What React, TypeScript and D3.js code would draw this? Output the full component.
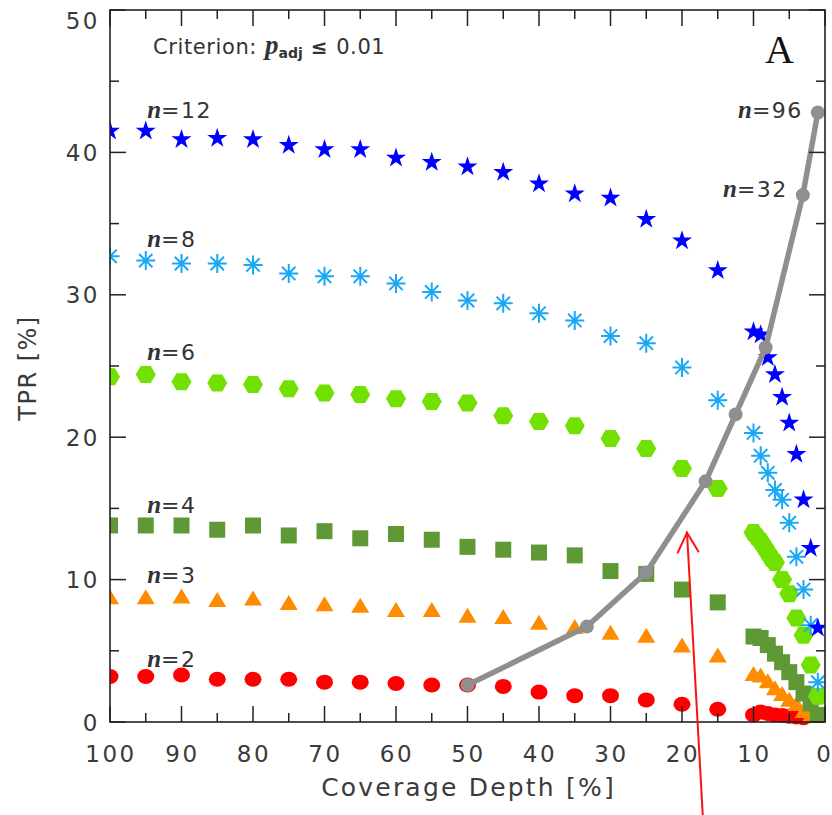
import React from "react";
import * as d3 from "d3";

// ---------- data ----------
const depthMain = [100, 95, 90, 85, 80, 75, 70, 65, 60, 55, 50, 45, 40, 35, 30, 25, 20, 15];
const depthLow = [10, 9, 8, 7, 6, 5, 4, 3, 2, 1];

const n12Main = [41.5, 41.5, 40.9, 41.0, 40.9, 40.5, 40.2, 40.2, 39.6, 39.3, 39.0, 38.6, 37.8, 37.1, 36.8, 35.3, 33.8, 31.7];
const n12Low = [27.4, 27.2, 25.6, 24.4, 22.8, 21.0, 18.8, 15.6, 12.2, 6.6];

const n8Main = [32.7, 32.4, 32.2, 32.2, 32.1, 31.5, 31.3, 31.3, 30.8, 30.2, 29.6, 29.4, 28.7, 28.2, 27.1, 26.6, 24.9, 22.6];
const n8Low = [20.3, 18.7, 17.5, 16.3, 15.6, 14.0, 11.6, 9.3, 6.8, 2.8];

const n6Main = [24.25, 24.4, 23.9, 23.8, 23.7, 23.4, 23.1, 23.0, 22.7, 22.5, 22.4, 21.5, 21.1, 20.8, 19.9, 19.2, 17.8, 16.4];
const n6LowDepth = [10, 9.5, 9, 8.5, 8, 7.5, 7, 6, 5, 4, 3, 2, 1];
const n6Low = [13.3, 13.0, 12.7, 12.3, 11.9, 11.5, 11.2, 10.0, 9.0, 7.3, 6.1, 4.0, 1.8];

const n4Main = [13.8, 13.8, 13.8, 13.5, 13.8, 13.1, 13.4, 12.9, 13.2, 12.8, 12.3, 12.1, 11.9, 11.7, 10.6, 10.4, 9.3, 8.4];
const n4Low = [6.0, 5.9, 5.4, 4.8, 4.2, 3.5, 2.8, 2.0, 1.3, 0.5];

const n3Main = [8.8, 8.8, 8.85, 8.6, 8.7, 8.4, 8.3, 8.2, 7.9, 7.9, 7.5, 7.4, 7.0, 6.7, 6.3, 6.1, 5.4, 4.7];
const n3LowDepth = [10, 9, 8, 7, 6, 5, 4, 3, 2];
const n3Low = [3.4, 3.3, 2.9, 2.4, 2.0, 1.6, 1.3, 0.8, 0.5];

const n2Main = [3.2, 3.2, 3.3, 3.0, 3.0, 3.0, 2.8, 2.8, 2.7, 2.6, 2.6, 2.5, 2.1, 1.85, 1.85, 1.55, 1.25, 0.9];
const n2LowDepth = [10, 9, 8, 7, 6, 5, 4, 3];
const n2Low = [0.5, 0.7, 0.6, 0.5, 0.45, 0.4, 0.35, 0.3];

// fixed-budget curve (n = 2,3,4,6,8,12,32,96)
const optN = [2, 3, 4, 6, 8, 12, 32, 96];
const optDepth = [50, 33.3, 25, 16.7, 12.5, 8.3, 3.1, 1.0];
const optTPR = [2.6, 6.7, 10.5, 16.9, 21.6, 26.3, 37.0, 42.8];

const yTickVals = [0, 10, 20, 30, 40, 50];
const yTickLabels = ["0", "10", "20", "30", "40", "50"];
const xTickVals = [100, 90, 80, 70, 60, 50, 40, 30, 20, 10, 0];
const xTickLabels = ["100", "90", "80", "70", "60", "50", "40", "30", "20", "10", "0"];

// series labels
const leftLabelN = ["12", "8", "6", "4", "3", "2"];
const leftLabelTPR = [42.4, 33.35, 25.4, 14.7, 9.75, 3.85];
const rightLabelN = ["96", "32"];
const rightLabelDepth = [3.1, 5.2];
const rightLabelTPR = [42.4, 36.9];

// ---------- layout ----------
const W = 832;
const H = 815;
const L = 110, R = 825, T = 10, B = 722;

const x = d3.scaleLinear().domain([100, 0]).range([L, R]);
const y = d3.scaleLinear().domain([0, 50]).range([B, T]);

const starPath = d3.symbol(d3.symbolStar, 124)() as string;
const hexPath = "M-10,0L-5,-8.5L5,-8.5L10,0L5,8.5L-5,8.5Z";
const triPath = "M0,-7.5L9,7.5L-9,7.5Z";
const sqPath = "M-8,-8H8V8H-8Z";
const astPath = "M-9.5,0H9.5M0,-9.5V9.5M-6.7,-6.7L6.7,6.7M-6.7,6.7L6.7,-6.7";

const sansFont = "'DejaVu Sans', Verdana, sans-serif";
const serifFont = "'Liberation Serif', 'Times New Roman', serif";

function pts(depths: number[], vals: number[]) {
  return depths.map((d, i) => [x(d), y(vals[i])] as [number, number]);
}

const App = () => {
  const xMinor = x.ticks(20).filter((v) => v % 10 !== 0);
  const yMinor = y.ticks(10).filter((v) => v % 10 !== 0);

  const red = [...pts(depthMain, n2Main), ...pts(n2LowDepth, n2Low)];
  const orange = [...pts(depthMain, n3Main), ...pts(n3LowDepth, n3Low)];
  const squares = [...pts(depthMain, n4Main), ...pts(depthLow, n4Low)];
  const hexes = [...pts(depthMain, n6Main), ...pts(n6LowDepth, n6Low)];
  const asts = [...pts(depthMain, n8Main), ...pts(depthLow, n8Low)];
  const stars = [...pts(depthMain, n12Main), ...pts(depthLow, n12Low)];
  const opt = pts(optDepth, optTPR);
  const line = d3.line()(opt) as string;

  // arrow annotation (in data coords)
  const tip: [number, number] = [x(19.3), y(13.3)];
  const tail: [number, number] = [x(17.1), y(-6.5)];
  const dx = tail[0] - tip[0], dy = tail[1] - tip[1];
  const len = Math.hypot(dx, dy);
  const ux = dx / len, uy = dy / len;
  const ang = (28 * Math.PI) / 180;
  const hl = 22;
  const w1: [number, number] = [
    tip[0] + hl * (ux * Math.cos(ang) - uy * Math.sin(ang)),
    tip[1] + hl * (ux * Math.sin(ang) + uy * Math.cos(ang)),
  ];
  const w2: [number, number] = [
    tip[0] + hl * (ux * Math.cos(-ang) - uy * Math.sin(-ang)),
    tip[1] + hl * (ux * Math.sin(-ang) + uy * Math.cos(-ang)),
  ];

  const tickColor = "#222";
  const labelColor = "#3a3a3a";

  return (
    <svg
      width={W}
      height={H}
      style={{ position: "absolute", left: 0, top: 0, background: "#fff" }}
    >
      <rect x={0} y={0} width={W} height={H} fill="#fff" />
      <defs>
        <clipPath id="plotclip">
          <rect x={L} y={T - 20} width={R - L} height={B - T + 28} />
        </clipPath>
      </defs>

      {/* markers */}
      <g clipPath="url(#plotclip)">
        {red.map(([px, py], i) => (
          <ellipse key={"r" + i} cx={px} cy={py} rx={8.5} ry={7.5} fill="#ff0000" />
        ))}
        {orange.map(([px, py], i) => (
          <path key={"o" + i} d={triPath} transform={`translate(${px},${py})`} fill="#ff8c00" />
        ))}
        {squares.map(([px, py], i) => (
          <path key={"s" + i} d={sqPath} transform={`translate(${px},${py})`} fill="#5f9936" />
        ))}
        {hexes.map(([px, py], i) => (
          <path key={"h" + i} d={hexPath} transform={`translate(${px},${py})`} fill="#72e000" />
        ))}
        {asts.map(([px, py], i) => (
          <path
            key={"a" + i}
            d={astPath}
            transform={`translate(${px},${py})`}
            fill="none"
            stroke="#1aa8f5"
            strokeWidth={2}
          />
        ))}
        {stars.map(([px, py], i) => (
          <path key={"st" + i} d={starPath} transform={`translate(${px},${py})`} fill="#0000ff" />
        ))}
        <path d={line} fill="none" stroke="#8f8f8f" strokeWidth={5.5} strokeLinejoin="round" />
        {opt.map(([px, py], i) => (
          <circle key={"g" + i} cx={px} cy={py} r={7} fill="#8f8f8f" />
        ))}
      </g>

      {/* frame */}
      <rect x={L} y={T} width={R - L} height={B - T} fill="none" stroke={tickColor} strokeWidth={1.6} />

      {/* x ticks (bottom & top) */}
      {xTickVals.map((v) => (
        <g key={"xM" + v}>
          <line x1={x(v)} x2={x(v)} y1={B} y2={B - 16} stroke={tickColor} strokeWidth={1.5} />
          <line x1={x(v)} x2={x(v)} y1={T} y2={T + 16} stroke={tickColor} strokeWidth={1.5} />
        </g>
      ))}
      {xMinor.map((v) => (
        <g key={"xm" + v}>
          <line x1={x(v)} x2={x(v)} y1={B} y2={B - 9} stroke={tickColor} strokeWidth={1.5} />
          <line x1={x(v)} x2={x(v)} y1={T} y2={T + 9} stroke={tickColor} strokeWidth={1.5} />
        </g>
      ))}
      {/* y ticks (left & right) */}
      {yTickVals.map((v) => (
        <g key={"yM" + v}>
          <line x1={L} x2={L + 16} y1={y(v)} y2={y(v)} stroke={tickColor} strokeWidth={1.5} />
          <line x1={R} x2={R - 16} y1={y(v)} y2={y(v)} stroke={tickColor} strokeWidth={1.5} />
        </g>
      ))}
      {yMinor.map((v) => (
        <g key={"ym" + v}>
          <line x1={L} x2={L + 9} y1={y(v)} y2={y(v)} stroke={tickColor} strokeWidth={1.5} />
          <line x1={R} x2={R - 9} y1={y(v)} y2={y(v)} stroke={tickColor} strokeWidth={1.5} />
        </g>
      ))}

      {/* tick labels */}
      {xTickVals.map((v, i) => {
        const isLast = i === xTickVals.length - 1;
        return (
          <text
            key={"xl" + v}
            x={isLast ? W - 1 : x(v) + 1}
            y={762}
            textAnchor={isLast ? "end" : "middle"}
            fontFamily={sansFont}
            fontSize={23}
            letterSpacing={isLast ? 0 : 2.5}
            fill={labelColor}
          >
            {xTickLabels[i]}
          </text>
        );
      })}
      {yTickVals.map((v, i) => (
        <text
          key={"yl" + v}
          x={100}
          y={Math.max(y(v) + 8.5, 29)}
          textAnchor="end"
          fontFamily={sansFont}
          fontSize={23}
          letterSpacing={2.5}
          fill={labelColor}
        >
          {yTickLabels[i]}
        </text>
      ))}

      {/* axis titles */}
      <text
        x={(L + R) / 2 + 1}
        y={796}
        textAnchor="middle"
        fontFamily={sansFont}
        fontSize={25}
        letterSpacing={2.2}
        fill={labelColor}
      >
        Coverage Depth [%]
      </text>
      <text
        transform={`translate(36,${368}) rotate(-90)`}
        textAnchor="middle"
        fontFamily={sansFont}
        fontSize={24}
        letterSpacing={1.5}
        fill={labelColor}
      >
        TPR [%]
      </text>

      {/* criterion */}
      <text x={153} y={54} fontFamily={sansFont} fontSize={21} letterSpacing={0.6} fill="#333">
        Criterion:
        <tspan dx={8} fontFamily={serifFont} fontStyle="italic" fontWeight="bold" fontSize={27} letterSpacing={0}>
          p
        </tspan>
        <tspan dy={4} fontSize={14} fontWeight="bold" letterSpacing={0}>
          adj
        </tspan>
        <tspan dy={-4} dx={8} fontSize={20} fontWeight="bold">
          ≤
        </tspan>
        <tspan dx={8}>0.01</tspan>
      </text>

      {/* panel letter */}
      <text x={765} y={63} fontFamily={serifFont} fontSize={40} fill="#111">
        A
      </text>

      {/* series labels */}
      {leftLabelN.map((n, i) => (
        <text key={"ll" + n} x={x(94.8)} y={y(leftLabelTPR[i])} fontFamily={sansFont} fontSize={22} letterSpacing={1.5} fill="#333">
          <tspan fontFamily={serifFont} fontStyle="italic" fontWeight="bold" fontSize={25} letterSpacing={0}>
            n
          </tspan>
          =
          {n}
        </text>
      ))}
      {rightLabelN.map((n, i) => (
        <text
          key={"rl" + n}
          x={x(rightLabelDepth[i])}
          y={y(rightLabelTPR[i])}
          textAnchor="end"
          fontFamily={sansFont}
          fontSize={22}
          letterSpacing={1.5}
          fill="#333"
        >
          <tspan fontFamily={serifFont} fontStyle="italic" fontWeight="bold" fontSize={25} letterSpacing={0}>
            n
          </tspan>
          =
          {n}
        </text>
      ))}

      {/* red arrow annotation */}
      <g stroke="#ff1010" strokeWidth={2} fill="none" strokeLinecap="round">
        <line x1={tail[0]} y1={tail[1]} x2={tip[0]} y2={tip[1]} />
        <polyline points={`${w1[0]},${w1[1]} ${tip[0]},${tip[1]} ${w2[0]},${w2[1]}`} />
      </g>
    </svg>
  );
};

export default App;
